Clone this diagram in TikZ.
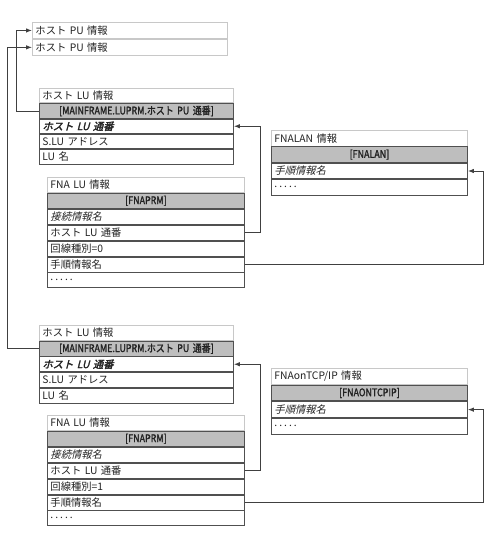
\documentclass[tikz,border=0pt]{standalone}
\usepackage{fontspec}
\setmainfont{Noto Sans CJK JP}
\newfontfamily\jpit[FakeSlant=0.25]{Noto Sans CJK JP}
\newfontfamily\jpbi[FakeSlant=0.25,FakeBold=2.2]{Noto Sans CJK JP}
\newfontfamily\jpcond[FakeStretch=0.85,FakeBold=1.6]{Noto Sans CJK JP}
\usetikzlibrary{arrows.meta}
\definecolor{rowc}{HTML}{505050}
\definecolor{ttlc}{HTML}{C8C8C8}
\definecolor{hdrc}{HTML}{BEBEBE}
\definecolor{txtc}{HTML}{222222}
\definecolor{linec}{HTML}{404040}
\newcommand\dotsrow{.\kern2pt.\kern2pt.\kern2pt.\kern2pt.}
\tikzset{
  cell/.style={anchor=north west, inner xsep=3pt, inner ysep=0pt, line width=0.9pt,
     font=\fontsize{10.3}{11}\selectfont, text=txtc, align=left},
  ttl/.style={cell, draw=ttlc, fill=white},
  rowbox/.style={cell, draw=rowc, fill=white},
  hdr/.style={cell, draw=rowc, fill=hdrc, align=center, font=\jpcond\fontsize{10.5}{11}\selectfont},
  wA/.style={minimum width=194pt, text width=188pt},
  wF/.style={minimum width=197pt, text width=191pt},
  wR/.style={minimum width=196pt, text width=190pt},
  hh/.style={minimum height=#1pt},
  conn/.style={draw=linec, line width=0.9pt},
  tip/.style={-{Latex[length=6pt,width=4.5pt]}}
}
\begin{document}
\begin{tikzpicture}[x=1pt,y=-1pt]
\useasboundingbox (0,0) rectangle (489,539);
% PU
\node[ttl, minimum width=195pt, text width=189pt, hh=16] (pu1) at (32,22) {ホスト PU 情報};
\node[ttl, minimum width=195pt, text width=189pt, hh=16] (pu2) at (pu1.south west) {ホスト PU 情報};
% Host LU upper
\node[ttl, wA, hh=14.4] (hA0) at (39,88) {ホスト LU 情報};
\node[hdr, wA, hh=14.4] (hA1) at (hA0.south west) {[MAINFRAME.LUPRM.ホスト PU 通番]};
\node[rowbox, wA, hh=14.4] (hA2) at (hA1.south west) {\jpbi ホスト LU 通番};
\node[rowbox, wA, hh=14.4] (hA3) at (hA2.south west) {S.LU アドレス};
\node[rowbox, wA, hh=14.4] (hA4) at (hA3.south west) {LU 名};
% FNALAN
\node[ttl, wR, hh=15.5] (lan0) at (271,130) {FNALAN 情報};
\node[hdr, wR, hh=15.5] (lan1) at (lan0.south west) {[FNALAN]};
\node[rowbox, wR, hh=15.5] (lan2) at (lan1.south west) {\jpit 手順情報名};
\node[rowbox, wR, hh=15.5] (lan3) at (lan2.south west) {\dotsrow};
% FNA LU upper
\node[ttl, wF, hh=15] (fA0) at (47,177) {FNA LU 情報};
\node[hdr, wF, hh=15] (fA1) at (fA0.south west) {[FNAPRM]};
\node[rowbox, wF, hh=15] (fA2) at (fA1.south west) {\jpit 接続情報名};
\node[rowbox, wF, hh=15] (fA3) at (fA2.south west) {ホスト LU 通番};
\node[rowbox, wF, hh=15] (fA4) at (fA3.south west) {回線種別=0};
\node[rowbox, wF, hh=15] (fA5) at (fA4.south west) {手順情報名};
\node[rowbox, wF, hh=15] (fA6) at (fA5.south west) {\dotsrow};
% Host LU lower
\node[ttl, wA, hh=14.8] (hB0) at (39,325) {ホスト LU 情報};
\node[hdr, wA, hh=14.8] (hB1) at (hB0.south west) {[MAINFRAME.LUPRM.ホスト PU 通番]};
\node[rowbox, wA, hh=14.8] (hB2) at (hB1.south west) {\jpbi ホスト LU 通番};
\node[rowbox, wA, hh=14.8] (hB3) at (hB2.south west) {S.LU アドレス};
\node[rowbox, wA, hh=14.8] (hB4) at (hB3.south west) {LU 名};
% FNAonTCP/IP
\node[ttl, wR, hh=15.75] (tcp0) at (271,368) {FNAonTCP/IP 情報};
\node[hdr, wR, hh=15.75] (tcp1) at (tcp0.south west) {[FNAONTCPIP]};
\node[rowbox, wR, hh=15.75] (tcp2) at (tcp1.south west) {\jpit 手順情報名};
\node[rowbox, wR, hh=15.75] (tcp3) at (tcp2.south west) {\dotsrow};
% FNA LU lower
\node[ttl, wF, hh=15] (fB0) at (47,415) {FNA LU 情報};
\node[hdr, wF, hh=15] (fB1) at (fB0.south west) {[FNAPRM]};
\node[rowbox, wF, hh=15] (fB2) at (fB1.south west) {\jpit 接続情報名};
\node[rowbox, wF, hh=15] (fB3) at (fB2.south west) {ホスト LU 通番};
\node[rowbox, wF, hh=15] (fB4) at (fB3.south west) {回線種別=1};
\node[rowbox, wF, hh=15] (fB5) at (fB4.south west) {手順情報名};
\node[rowbox, wF, hh=15] (fB6) at (fB5.south west) {\dotsrow};
% connectors
\draw[conn, tip] (hA1.west) -- ++(-23,0) |- (pu1.west);
\draw[conn, tip] (hB1.west) -- ++(-32,0) |- (pu2.west);
\draw[conn, tip] (fA3.east) -- ++(16,0) |- (hA2.east);
\draw[conn, tip] (fA5.east) -- ++(239,0) |- (lan2.east);
\draw[conn, tip] (fB3.east) -- ++(16,0) |- (hB2.east);
\draw[conn, tip] (fB5.east) -- ++(239,0) |- (tcp2.east);
\end{tikzpicture}
\end{document}
